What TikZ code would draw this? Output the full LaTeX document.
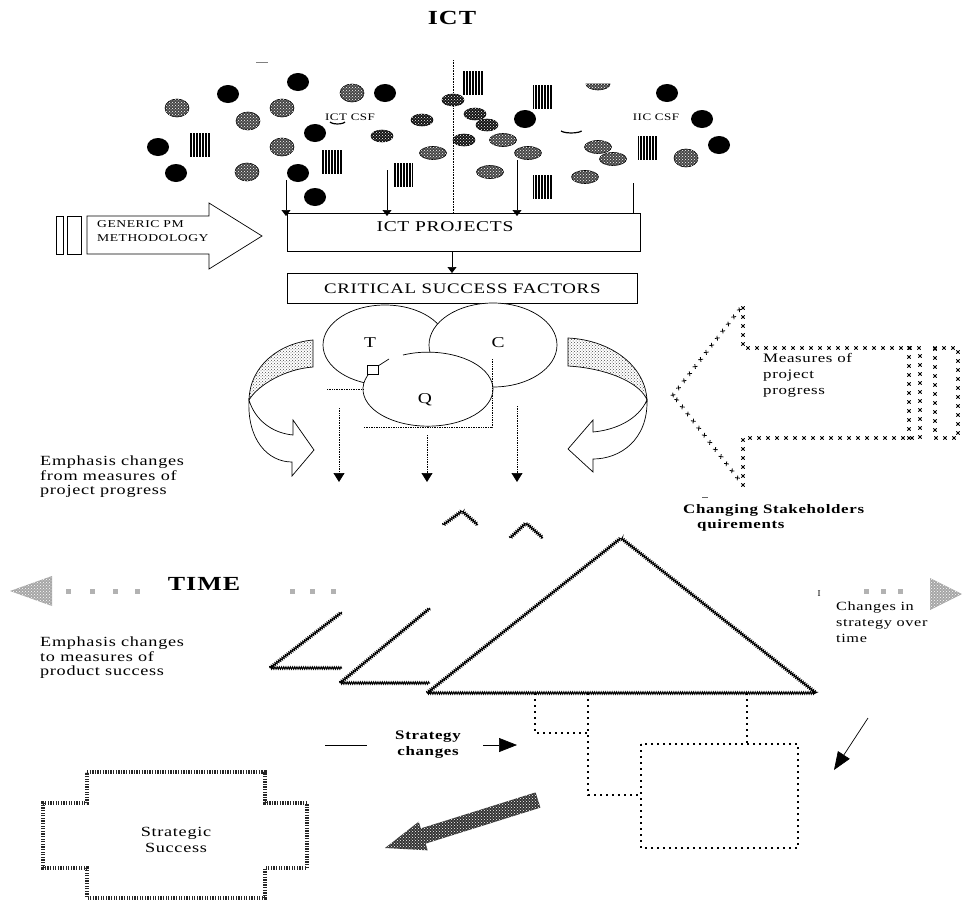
\documentclass[tikz,border=0pt]{standalone}
\usepackage{fontspec}
\setmainfont{Liberation Serif}
\newfontfamily\wf[FakeStretch=1.3,LetterSpace=5]{Liberation Serif}
\usetikzlibrary{arrows.meta,patterns,decorations.pathmorphing,decorations.markings}
\tikzset{
  hat/.style={draw=black, line width=0.6pt, fill=black!72, postaction={pattern=crosshatch dots, pattern color=white}},
  dhat/.style={draw=black, line width=0.6pt, fill=black!92, postaction={pattern=crosshatch dots, pattern color=white}},
  stripe/.style={fill=black, postaction={pattern=vertical lines, pattern color=white}},
  ln/.style={line width=0.7pt},
  tipd/.style={-{Triangle[width=9pt,length=6pt]}},
  dtip/.style={ln, densely dotted, -{Triangle[width=11pt,length=9pt]}},
  zz/.style={decorate, decoration={zigzag, segment length=2.2pt, amplitude=1.2pt}, line width=1pt},
  dotl/.style={line width=1.8pt, dash pattern=on 1.8pt off 4.2pt},
  xb/.style={postaction={decorate}, decoration={markings, mark=between positions 0 and 1 step 9pt with {\draw[line width=0.8pt] (-1.7pt,-1.7pt)--(1.7pt,1.7pt) (-1.7pt,1.7pt)--(1.7pt,-1.7pt);}}},
  chk/.style={draw=black!85, line width=3.4pt, dash pattern=on 1.3pt off 1.3pt},
  band/.style={draw=black, line width=0.7pt, fill=white, postaction={pattern=crosshatch dots, pattern color=black!70}},
  txt/.style={align=left, anchor=north west, inner sep=0pt},
  sq/.style={fill=black!30},
  tshade/.style={fill=black!35, postaction={pattern=crosshatch dots, pattern color=white}},
}
\begin{document}
\begin{tikzpicture}[x=1pt,y=-1pt]
\useasboundingbox (0,0) rectangle (965,902);
% ---------- title
\node[font=\wf\bfseries\fontsize{20}{22}\selectfont] (title) at (452,18) {ICT};
\draw[ln, black!50] (256,62) -- (268,62);
\draw[line width=0.6pt, densely dotted] (453,60) -- (453,213);
% ---------- blobs
\foreach \p in {(298,82),(228,94),(385,93),(158,147),(176,173),(315,133),(298,173),(315,197),(525,119),(667,93),(702,119),(719,145)}
  \fill \p ellipse [x radius=11pt, y radius=9pt];
\foreach \p in {(177,108),(248,121),(282,108),(282,147),(247,172),(352,93),(686,158)}
  \path[hat] \p ellipse [x radius=12pt, y radius=9pt];
\foreach \p in {(433,153),(503,140),(490,172),(528,153),(598,147),(613,159),(585,177)}
  \path[hat] \p ellipse [x radius=13.5pt, y radius=6.5pt];
\foreach \p in {(453,100),(422,120),(382,136),(464,140),(475,114),(487,125)}
  \path[dhat] \p ellipse [x radius=11pt, y radius=6pt];
\path[hat] (586,84) arc[start angle=180, end angle=360, x radius=12pt, y radius=6pt] -- cycle;
\draw[line width=1.2pt] (330,122) arc[start angle=200, end angle=340, x radius=8pt, y radius=3pt];
\draw[line width=1.2pt] (561,131) arc[start angle=200, end angle=340, x radius=11pt, y radius=3pt];
\foreach \x/\y in {200/145,332/162,403/175,473/83,543/97,648/148,543/187}
  \path[stripe] (\x-10,\y-12) rectangle (\x+10,\y+12);
\node[font=\wf\fontsize{10}{11}\selectfont] (csfa) at (350,117) {ICT CSF};
\node[font=\wf\fontsize{10}{11}\selectfont] (csfb) at (656,117) {IIC CSF};
% ---------- boxes
\node[draw, ln, minimum width=353pt, minimum height=38pt, anchor=north west, inner sep=0pt] (proj) at (287,213) {};
\node[font=\wf\fontsize{15}{17}\selectfont] (projt) at (445,227) {ICT PROJECTS};
\node[draw, ln, minimum width=350pt, minimum height=30pt, anchor=north west, inner sep=0pt, font=\wf\fontsize{14.5}{16}\selectfont] (csf) at (287,273) {CRITICAL SUCCESS FACTORS};
\coordinate (ax) at (452,0);
\draw[ln, tipd] (proj.south -| ax) -- (csf.north -| ax);
\coordinate (a1) at (286,180);
\coordinate (a2) at (387,170);
\coordinate (a3) at (517,160);
\coordinate (a4) at (633,183);
\draw[ln, tipd, shorten >=-3pt] (a1) -- (a1 |- proj.north);
\draw[ln, tipd, shorten >=-3pt] (a2) -- (a2 |- proj.north);
\draw[ln, tipd, shorten >=-3pt] (a3) -- (a3 |- proj.north);
\draw[ln] (a4) -- (a4 |- proj.north);
% ---------- generic PM arrow
\draw[ln] (56,216) rectangle (63,254);
\draw[ln] (67,216) rectangle (81,254);
\draw[ln] (87,216) -- (209,216) -- (209,203) -- (262,236) -- (209,269) -- (209,254) -- (87,254) -- cycle;
\node[txt, font=\wf\fontsize{10.5}{14}\selectfont] (gpm) at (97,220) {GENERIC PM\\METHODOLOGY};
% ---------- T C Q
\draw[ln, fill=white] (385,345) ellipse [x radius=62pt, y radius=40pt];
\draw[ln, fill=white] (493,345) ellipse [x radius=64pt, y radius=42pt];
\fill[white] (428,389) ellipse [x radius=65pt, y radius=37pt];
\draw[ln] (403,355) arc[start angle=112.6, end angle=-208, x radius=65pt, y radius=37pt];
\draw[ln, fill=white] (367,365) rectangle (378,374);
\draw[ln] (378,366) -- (389,359);
\node[font=\wf\fontsize{15}{16}\selectfont] (T) at (370,343) {T};
\node[font=\wf\fontsize{15}{16}\selectfont] (C) at (498,343) {C};
\node[font=\wf\fontsize{15}{16}\selectfont] (Q) at (425,400) {Q};
\draw[ln, densely dotted] (327,389) -- (363,389);
\draw[ln, densely dotted] (492,359) -- (492,427) -- (363,427);
\draw[dtip] (339,408) -- (339,482);
\draw[dtip] (427,435) -- (427,482);
\draw[dtip] (517,406) -- (517,482);
% ---------- curved arrows
\path[band] (313,340) .. controls (280,343) and (250,365) .. (249,400) .. controls (258,385) and (285,369) .. (313,367) -- cycle;
\draw[ln, fill=white] (249,400) .. controls (247,440) and (268,462) .. (292,462) -- (292,476) -- (314,450) -- (293,420) -- (293,435) .. controls (272,433) and (255,420) .. (249,400) -- cycle;
\path[band] (568,338) .. controls (610,340) and (645,365) .. (647,400) .. controls (640,382) and (605,368) .. (568,366) -- cycle;
\draw[ln, fill=white] (647,400) .. controls (648,440) and (620,459) .. (593,459) -- (593,472) -- (568,449) -- (593,420) -- (593,432) .. controls (615,430) and (638,420) .. (647,400) -- cycle;
% ---------- measures arrow
\path[xb] (673,395) -- (743,305) -- (743,348) -- (920,348) -- (920,438) -- (743,438) -- (743,485) -- cycle;
\path[xb] (909,348) -- (909,438);
\path[xb] (935,348) -- (958,348) -- (958,438) -- (935,438) -- cycle;
\node[txt, font=\wf\fontsize{13}{16}\selectfont] (meas) at (763,353) {Measures of\\project\\progress};
\node[txt, font=\wf\fontsize{14}{14.5}\selectfont] (emp1) at (40,456) {Emphasis changes\\from measures of\\project progress};
% ---------- time row
\path[tshade] (10,591) -- (52,576) -- (52,606) -- cycle;
\foreach \x in {68,92,115,137,292,312,333,866,883,900}
  \path[sq] (\x-2.5,588.5) rectangle (\x+2.5,593.5);
\node[font=\wf\bfseries\fontsize{20}{22}\selectfont] (time) at (204,584) {TIME};
\path[tshade] (930,578) -- (962,594) -- (930,610) -- cycle;
\node[font=\fontsize{9}{10}\selectfont] (imark) at (819,594) {I};
% ---------- triangles
\draw[zz] (270,668) -- (342,612);
\draw[zz] (270,668) -- (342,668);
\draw[zz] (443,525) -- (462,511) -- (478,525);
\draw[zz] (340,683) -- (430,608);
\draw[zz] (340,683) -- (430,683);
\draw[zz] (510,538) -- (526,523) -- (543,538);
\draw[zz] (427,693) -- (621,538) -- (816,693) -- cycle;
\draw[ln, black!60] (702,497) -- (708,497);
\node[txt, font=\wf\bfseries\fontsize{13}{15}\selectfont] (stake) at (683,504) {Changing Stakeholders\\\hspace*{14pt}quirements};
\node[txt, font=\wf\fontsize{14}{14.5}\selectfont] (emp2) at (40,637) {Emphasis changes\\to measures of\\product success};
\node[txt, font=\wf\fontsize{12.5}{16}\selectfont] (chg) at (836,602) {Changes in\\strategy over\\time};
% ---------- dotted organisation
\draw[dotl] (535,693) -- (535,733) -- (588,733);
\draw[dotl] (588,693) -- (588,795) -- (641,795);
\draw[dotl] (747,693) -- (747,744);
\draw[dotl] (641,744) rectangle (798,848);
% ---------- strategy changes
\node[font=\wf\bfseries\fontsize{13}{16}\selectfont, align=center] (strat) at (428,745) {Strategy\\changes};
\draw[ln] (325,745) -- (367,745);
\draw[ln, -{Triangle[width=14pt,length=18pt]}] (483,745) -- (517,745);
\draw[ln, -{Triangle[width=14pt,length=18pt]}] (868,718) -- (834,770);
% ---------- big hatched arrow
\path[fill=black!80, postaction={pattern=crosshatch dots, pattern color=white}] (540.4,807.6) -- (425.6,843.6) -- (427.7,850.3) -- (385,848) -- (418.7,821.7) -- (420.8,828.4) -- (535.6,792.4) -- cycle;
% ---------- strategic success
\path[chk] (87,772) -- (265,772) -- (265,803) -- (307,803) -- (307,868) -- (265,868) -- (265,898) -- (87,898) -- (87,868) -- (43,868) -- (43,803) -- (87,803) -- cycle;
\node[font=\wf\fontsize{14}{16}\selectfont, align=center] (succ) at (176,840) {Strategic\\Success};
\end{tikzpicture}
\end{document}
